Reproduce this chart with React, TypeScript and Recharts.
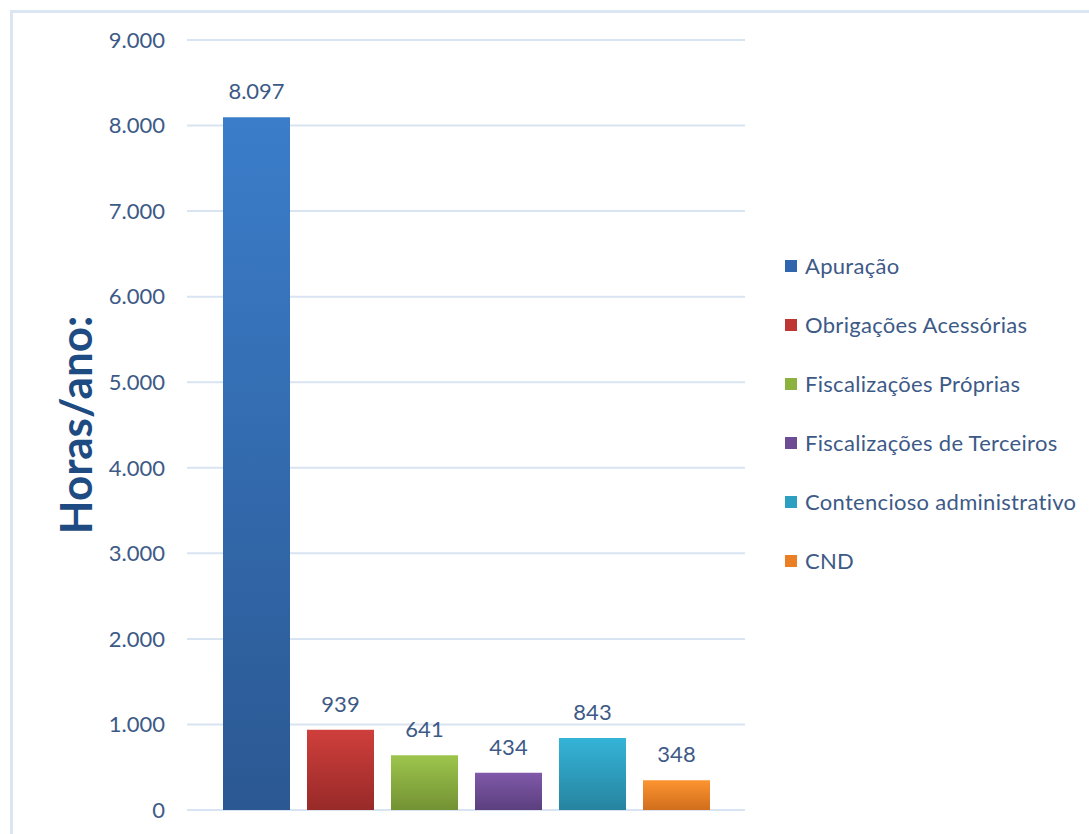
import { BarChart, Bar, XAxis, YAxis, CartesianGrid, Legend, LabelList } from "recharts";

const seriesNames = [
  "Apuração",
  "Obrigações Acessórias",
  "Fiscalizações Próprias",
  "Fiscalizações de Terceiros",
  "Contencioso administrativo",
  "CND",
];
const seriesValues = [8097, 939, 641, 434, 843, 348];
const yTicks = [0, 1000, 2000, 3000, 4000, 5000, 6000, 7000, 8000, 9000];
const category = "Horas";

// top / bottom of each bar gradient, plus the flat legend swatch
const gradTop = ["#3b7dca", "#cf3f3c", "#9dc54c", "#8059a9", "#35b4d8", "#fd9430"];
const gradBottom = ["#2b5892", "#982a28", "#739234", "#5b3f7e", "#26849f", "#d06e1c"];
const swatch = ["#2f66ad", "#be3634", "#8cb23f", "#6d4c94", "#2d9fc0", "#ea7f24"];

const fmt = (v: number) => String(v).replace(/\B(?=(\d{3})+(?!\d))/g, ".");

const row: Record<string, string | number> = { category };
seriesValues.forEach((v, i) => {
  row[`s${i}`] = v;
});
const data = [row];

const textColor = "#3d5a87";
const font = "Lato, 'Open Sans', sans-serif";

const LegendContent = () => (
  <div style={{ fontFamily: font }}>
    {seriesNames.map((name, i) => (
      <div
        key={name}
        style={{ height: 59, display: "flex", alignItems: "center", whiteSpace: "nowrap" }}
      >
        <span style={{ width: 12, height: 12, background: swatch[i], display: "inline-block" }} />
        <span style={{ marginLeft: 8, fontSize: 22, color: textColor, letterSpacing: 0.3 }}>
          {name}
        </span>
      </div>
    ))}
  </div>
);

const YTitle = (props: any) => {
  const vb = props.viewBox || { x: 0, y: 0, width: 0, height: 0 };
  const cx = vb.x + 92;
  const cy = vb.y + vb.height / 2;
  return (
    <text
      x={cx}
      y={cy}
      transform={`rotate(-90 ${cx} ${cy})`}
      textAnchor="middle"
      fill="#1e4b82"
      fontSize={44}
      fontWeight={700}
      fontFamily={font}
    >
      Horas/ano:
    </text>
  );
};

export default function App() {
  return (
    <div
      style={{
        position: "absolute",
        left: 0,
        top: 0,
        width: 1089,
        height: 834,
        background: "#fff",
        fontFamily: font,
        overflow: "hidden",
      }}
    >
      <div
        style={{
          position: "absolute",
          left: 10,
          top: 10,
          right: 0,
          bottom: 0,
          borderTop: "3px solid #dce6f2",
          borderLeft: "3px solid #dce6f2",
        }}
      />
      <BarChart
        width={1089}
        height={834}
        data={data}
        margin={{ top: 40, right: 44, bottom: 24, left: 0 }}
        barGap={17}
        barSize={67}
      >
        <defs>
          {seriesNames.map((_, i) => (
            <linearGradient key={i} id={`grad-${i}`} x1="0" y1="0" x2="0" y2="1">
              <stop offset="0%" stopColor={gradTop[i]} />
              <stop offset="100%" stopColor={gradBottom[i]} />
            </linearGradient>
          ))}
        </defs>
        <CartesianGrid vertical={false} stroke="#d9e4f2" strokeWidth={2} />
        <XAxis dataKey="category" hide />
        <YAxis
          width={187}
          domain={[0, 9000]}
          ticks={yTicks}
          tickFormatter={fmt}
          axisLine={false}
          tickLine={false}
          tickSize={0}
          tickMargin={22}
          tick={{ fontSize: 22, fill: textColor, fontFamily: font }}
          label={{ content: YTitle }}
        />
        <Legend
          layout="vertical"
          align="right"
          verticalAlign="middle"
          width={300}
          wrapperStyle={{ width: 300, left: 785, right: "auto", top: 236 }}
          content={<LegendContent />}
        />
        {seriesNames.map((name, i) => (
          <Bar
            key={name}
            dataKey={`s${i}`}
            name={name}
            fill={`url(#grad-${i})`}
            isAnimationActive={false}
          >
            <LabelList
              dataKey={`s${i}`}
              position="top"
              offset={18}
              formatter={(v: any) => fmt(Number(v))}
              style={{ fontSize: 22, fill: textColor, fontFamily: font }}
            />
          </Bar>
        ))}
      </BarChart>
    </div>
  );
}
